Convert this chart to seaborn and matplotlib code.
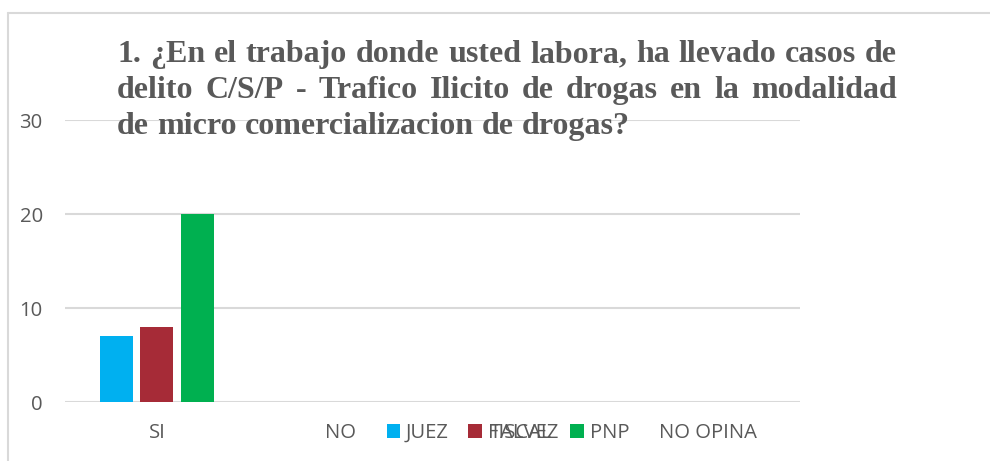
import matplotlib
matplotlib.use("Agg")
import matplotlib.pyplot as plt
import seaborn as sns
import pandas as pd
from matplotlib.lines import Line2D
from matplotlib.patches import Patch

categories = ["SI", "NO", "TALVEZ", "NO OPINA"]
series_names = ["JUEZ", "FISCAL", "PNP"]
juez = [7, 0, 0, 0]
fiscal = [8, 0, 0, 0]
pnp = [20, 0, 0, 0]
colors = ["#00B0F0", "#A62B37", "#00B050"]
y_ticks = [0, 10, 20, 30]
title_lines = [
    "1. ¿En el trabajo donde usted labora, ha llevado casos de",
    "delito C/S/P - Trafico Ilicito de drogas en la modalidad",
    "de micro comercializacion de drogas?",
]

rows = []
for name, vals in zip(series_names, [juez, fiscal, pnp]):
    for c, v in zip(categories, vals):
        rows.append({"cat": c, "serie": name, "val": v})
df = pd.DataFrame(rows)

sns.set_style("white")
plt.rcParams["font.family"] = ["Open Sans", "DejaVu Sans"]

W, H = 990, 461
fig = plt.figure(figsize=(W / 100, H / 100), dpi=100)
ax = fig.add_axes([65 / W, 1 - 402 / H, 735 / W, 282 / H])

sns.barplot(data=df, x="cat", y="val", hue="serie", order=categories,
            hue_order=series_names, palette=colors, saturation=1,
            width=0.661, gap=0.185, linewidth=0, ax=ax, legend=False,
            errorbar=None)

ax.set_ylim(0, 30)
ax.set_xlim(-0.5, len(categories) - 0.5)
ax.set_yticks(y_ticks)
ax.yaxis.grid(True, color="#d9d9d9", linewidth=1.5)
ax.set_axisbelow(True)
for s in ax.spines.values():
    s.set_visible(False)
ax.set_xlabel("")
ax.set_ylabel("")
ax.tick_params(axis="both", length=0, labelsize=14.6, colors="#595959")
ax.tick_params(axis="x", pad=15)
ax.tick_params(axis="y", pad=16)

handles = [Patch(facecolor=c, edgecolor="none", label=n) for c, n in zip(colors, series_names)]
fig.legend(handles=handles, loc="center", bbox_to_anchor=(508 / W, 1 - 433 / H),
           ncol=3, frameon=False, fontsize=14.6, labelcolor="#595959",
           handlelength=0.66, handleheight=0.66, handletextpad=0.3,
           columnspacing=0.95, borderpad=0, borderaxespad=0)

# chart border
fig.add_artist(Line2D([8 / W, 1.0], [1 - 13 / H, 1 - 13 / H], transform=fig.transFigure,
                      color="#d9d9d9", linewidth=1.5))
fig.add_artist(Line2D([8 / W, 8 / W], [0, 1 - 13 / H], transform=fig.transFigure,
                      color="#d9d9d9", linewidth=1.5))

# justified title
renderer = fig.canvas.get_renderer()
x0, x1 = 117, 897
baselines = [62, 98, 134]
tkw = dict(fontsize=23, fontweight="bold", family="Liberation Serif", color="#595959",
           va="baseline", ha="left")
for li, (line, yb) in enumerate(zip(title_lines, baselines)):
    words = line.split(" ")
    texts = [fig.text(0, 1 - yb / H, w, **tkw) for w in words]
    widths = [t.get_window_extent(renderer).width for t in texts]
    if li < len(title_lines) - 1:
        space = (x1 - x0 - sum(widths)) / (len(words) - 1)
    else:
        sp = fig.text(0, 0, "a a", **tkw)
        sp2 = fig.text(0, 0, "aa", **tkw)
        space = sp.get_window_extent(renderer).width - sp2.get_window_extent(renderer).width
        sp.remove(); sp2.remove()
    x = x0
    for t, w in zip(texts, widths):
        t.set_x(x / W)
        x += w + space

fig.savefig("out.png", dpi=100)
